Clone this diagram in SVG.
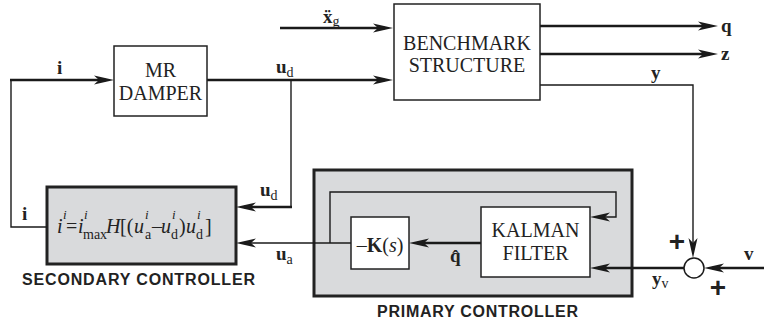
<svg xmlns="http://www.w3.org/2000/svg" width="764" height="326" viewBox="0 0 764 326">
<style>
.box{fill:#fff;stroke:#222;stroke-width:1.5}
.ctrl{fill:#d9dadc;stroke:#222;stroke-width:3}
.thick{fill:none;stroke:#1a1a1a;stroke-width:2.6}
.thin{fill:none;stroke:#1a1a1a;stroke-width:1.4}
.lbl{font-family:"Liberation Serif","Times New Roman",serif;font-size:20px;fill:#222;text-anchor:middle}
.b{font-family:"Liberation Serif","DejaVu Serif",serif;font-size:19px;font-weight:bold;fill:#222}
.sub{font-family:"Liberation Serif",serif;font-size:14px;font-weight:normal;fill:#222}
.cap{font-family:"Liberation Sans",Arial,sans-serif;font-size:16px;font-weight:bold;fill:#222}
.plus{font-family:"Liberation Sans",Arial,sans-serif;font-size:28px;font-weight:bold;fill:#222;text-anchor:middle}
.eq{font-family:"Liberation Serif","Times New Roman",serif;font-size:20px;font-style:italic;fill:#222}
</style>
<defs>
<marker id="arr" markerUnits="userSpaceOnUse" markerWidth="22" markerHeight="12" refX="12" refY="6" orient="auto">
<path d="M0,1.5 L20,6 L0,10.5 L5,6 Z" fill="#1a1a1a"/>
</marker>
</defs>

<g id="secondary-controller">
<rect class="ctrl" x="47" y="187" width="189" height="77"/>
<text class="eq"><tspan x="57" y="233">i</tspan><tspan x="63" y="219" font-size="13">i</tspan><tspan x="66" y="233" font-style="normal">=</tspan><tspan x="78" y="233">i</tspan><tspan x="84" y="219" font-size="13">i</tspan><tspan x="83" y="239" font-size="14" font-style="normal">max</tspan><tspan x="106" y="233">H</tspan><tspan x="120" y="233" font-style="normal">[(</tspan><tspan x="134" y="233">u</tspan><tspan x="145" y="219" font-size="13">i</tspan><tspan x="145" y="239" font-size="14" font-style="normal">a</tspan><tspan x="152" y="233" font-style="normal">–</tspan><tspan x="161" y="233">u</tspan><tspan x="172" y="219" font-size="13">i</tspan><tspan x="171" y="239" font-size="14" font-style="normal">d</tspan><tspan x="179" y="233" font-style="normal">)</tspan><tspan x="186" y="233">u</tspan><tspan x="197" y="219" font-size="13">i</tspan><tspan x="196" y="239" font-size="14" font-style="normal">d</tspan><tspan x="205" y="233" font-style="normal">]</tspan></text>
<text class="cap" x="22" y="285" textLength="233">SECONDARY CONTROLLER</text>
</g>

<g id="primary-controller">
<rect class="ctrl" x="314" y="170" width="318" height="126"/>
<text class="cap" x="377" y="317" textLength="201">PRIMARY CONTROLLER</text>
</g>

<g id="connectors">
<path class="thick" d="M280,28 H385" marker-end="url(#arr)"/>
<path class="thin" d="M47,227 H11 V80"/>
<path class="thick" d="M10,80 H106" marker-end="url(#arr)"/>
<path class="thick" d="M207,80 H385" marker-end="url(#arr)"/>
<path class="thin" d="M291,80 V207"/>
<path class="thick" d="M292,207 H244" marker-end="url(#arr)"/>
<path class="thick" d="M540,26 H710" marker-end="url(#arr)"/>
<path class="thick" d="M540,54 H710" marker-end="url(#arr)"/>
<path class="thin" d="M540,85 H693 V250" marker-end="url(#arr)"/>
<path class="thick" d="M764,268 H712" marker-end="url(#arr)"/>
<path class="thick" d="M684,268 H598" marker-end="url(#arr)"/>
<path class="thick" d="M481,243 H417" marker-end="url(#arr)"/>
<path class="thin" d="M351,243 H244" marker-end="url(#arr)"/>
<path class="thin" d="M330,243 V192 H616 V217 H598" marker-end="url(#arr)"/>
</g>

<g id="mr-damper">
<rect class="box" x="114" y="46" width="93" height="70"/>
<text class="lbl" x="160.5" y="77">MR</text>
<text class="lbl" x="160.5" y="100">DAMPER</text>
</g>

<g id="benchmark-structure">
<rect class="box" x="394" y="4" width="146" height="96"/>
<text class="lbl" x="467" y="50">BENCHMARK</text>
<text class="lbl" x="467" y="72">STRUCTURE</text>
</g>

<g id="gain">
<rect class="box" x="351" y="217" width="58" height="52"/>
<text class="lbl" x="380" y="252">–<tspan font-weight="bold">K</tspan>(<tspan font-style="italic">s</tspan>)</text>
</g>

<g id="kalman-filter">
<rect class="box" x="481" y="207" width="109" height="70"/>
<text class="lbl" x="535.5" y="237">KALMAN</text>
<text class="lbl" x="535.5" y="260">FILTER</text>
</g>

<g id="summing-junction">
<circle cx="694" cy="268" r="10" fill="#fff" stroke="#1a1a1a" stroke-width="1.5"/>
<text class="plus" x="677" y="251">+</text>
<text class="plus" x="718" y="297">+</text>
</g>

<g id="labels">
<text class="b" x="323" y="23">ẍ<tspan class="sub" dy="3">g</tspan></text>
<text class="b" x="57" y="74">i</text>
<text class="b" x="276" y="73">u<tspan class="sub" dy="4">d</tspan></text>
<text class="b" x="721" y="32">q</text>
<text class="b" x="721" y="60">z</text>
<text class="b" x="651" y="79">y</text>
<text class="b" x="260" y="196">u<tspan class="sub" dy="4">d</tspan></text>
<text class="b" x="22" y="220">i</text>
<text class="b" x="276" y="260">u<tspan class="sub" dy="4">a</tspan></text>
<text class="b" x="450" y="262">q̂</text>
<text class="b" x="652" y="285">y<tspan class="sub" dy="3">v</tspan></text>
<text class="b" x="744" y="260">v</text>
</g>
</svg>
